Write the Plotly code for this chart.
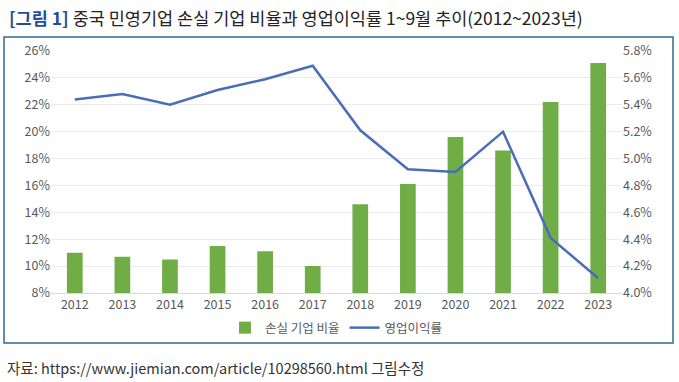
import plotly.graph_objects as go

years = ["2012", "2013", "2014", "2015", "2016", "2017", "2018", "2019", "2020", "2021", "2022", "2023"]
loss_ratio = [11.0, 10.7, 10.5, 11.5, 11.1, 10.0, 14.6, 16.1, 19.6, 18.6, 22.2, 25.1]
op_margin = [5.44, 5.48, 5.40, 5.51, 5.59, 5.69, 5.21, 4.92, 4.90, 5.20, 4.41, 4.11]

left_ticks = [8, 10, 12, 14, 16, 18, 20, 22, 24, 26]
right_ticks = [4.0, 4.2, 4.4, 4.6, 4.8, 5.0, 5.2, 5.4, 5.6, 5.8]

W, H = 679, 382
L, R, T, B = 51, 57, 51, 89
pw, ph = W - L - R, H - T - B

def px(x):
    return (x - L) / pw

def py(y):
    return (H - B - y) / ph

font = "Noto Sans CJK KR"
tickc = "#595959"

fig = go.Figure()
fig.add_trace(go.Bar(
    x=years, y=loss_ratio, name="손실 기업 비율",
    marker=dict(color="#70ad47", line=dict(width=0)), width=0.33, yaxis="y",
))
fig.add_trace(go.Scatter(
    x=years, y=op_margin, name="영업이익률", mode="lines",
    line=dict(color="#4a6db8", width=2.5), yaxis="y2",
))

fig.update_layout(
    width=W, height=H,
    margin=dict(l=L, r=R, t=T, b=B),
    paper_bgcolor="white", plot_bgcolor="white",
    font=dict(family=font, size=12, color=tickc),
    showlegend=True,
    legend=dict(orientation="h", x=0.5, xanchor="center", y=py(328), yanchor="middle",
                font=dict(size=12.5, color=tickc), itemwidth=30, traceorder="normal",
                bgcolor="rgba(0,0,0,0)"),
    xaxis=dict(type="category", showgrid=False, showline=True, linecolor="#d9d9d9",
               linewidth=1, ticks="", tickfont=dict(size=12.5, color=tickc)),
    yaxis=dict(range=[8, 26], tickvals=left_ticks, ticktext=[f"{v}%" for v in left_ticks],
               showgrid=True, gridcolor="#ebebeb", gridwidth=1, zeroline=False,
               ticks="", tickfont=dict(size=12.5, color=tickc)),
    yaxis2=dict(range=[4.0, 5.8], overlaying="y", side="right",
                tickvals=right_ticks, ticktext=[f"{v:.1f}%" for v in right_ticks],
                showgrid=False, zeroline=False, ticks="",
                tickfont=dict(size=12.5, color=tickc)),
)

fig.add_shape(type="rect", xref="paper", yref="paper",
              x0=px(4), x1=px(673), y0=py(343), y1=py(37),
              line=dict(color="#2e6e8e", width=1.5), fillcolor="rgba(0,0,0,0)", layer="below")

fig.add_annotation(xref="paper", yref="paper", x=px(7), y=py(18), xanchor="left", yanchor="middle",
                   showarrow=False,
                   text="<span style='color:#1f4e9a'><b>[그림 1]</b></span> 중국 민영기업 손실 기업 비율과 영업이익률 1~9월 추이(2012~2023년)",
                   font=dict(family=font, size=17.5, color="#222222"))

fig.add_annotation(xref="paper", yref="paper", x=px(5), y=py(367), xanchor="left", yanchor="middle",
                   showarrow=False,
                   text="자료: https://www.jiemian.com/article/10298560.html 그림수정",
                   font=dict(family=font, size=14.5, color="#333333"))

fig.write_html("out.html", config={"displayModeBar": False},
               post_script="document.body.style.margin='0';document.body.style.padding='0';")
